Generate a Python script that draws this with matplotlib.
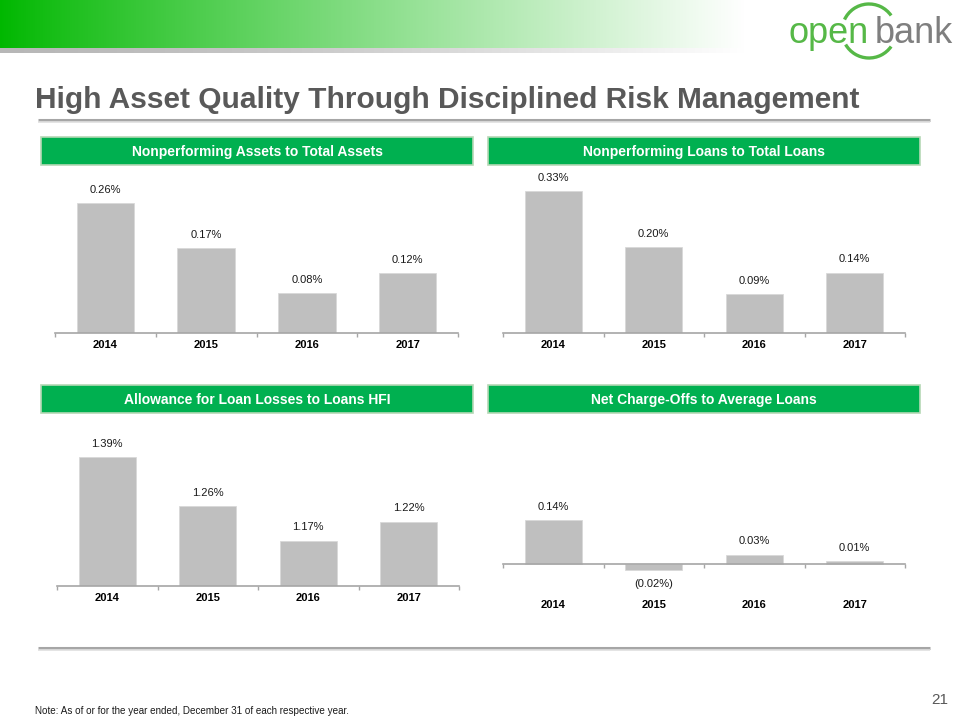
import numpy as np
import matplotlib
matplotlib.use('Agg')
import matplotlib.pyplot as plt
from matplotlib import font_manager
from matplotlib.patches import Rectangle, Arc

# chart data
years = ['2014', '2015', '2016', '2017']
npa_to_assets = [0.26, 0.17, 0.08, 0.12]
npl_to_loans = [0.33, 0.20, 0.09, 0.14]
allowance_to_loans = [1.39, 1.26, 1.17, 1.22]
nco_to_avg_loans = [0.14, -0.02, 0.03, 0.01]

panel_titles = ['Nonperforming Assets to Total Assets',
                'Nonperforming Loans to Total Loans',
                'Allowance for Loan Losses to Loans HFI',
                'Net Charge-Offs to Average Loans']

GREEN = '#00B050'
LOGO_GREEN = '#56B847'
BAR = '#BFBFBF'
AXIS = '#A6A6A6'
DARK = '#595959'

plt.rcParams['font.family'] = ['Liberation Sans', 'DejaVu Sans']

installed = {f.name for f in font_manager.fontManager.ttflist}
NARROW = 'Liberation Sans Narrow' if 'Liberation Sans Narrow' in installed else 'Liberation Sans'

W, H = 960, 720
fig = plt.figure(figsize=(9.6, 7.2), dpi=100)


def px_axes(x0, y0, x1, y1):
    # axes placed by pixel box (top-left origin)
    return fig.add_axes([x0 / W, 1 - y1 / H, (x1 - x0) / W, (y1 - y0) / H])


# background layer in pixel coordinates
bg = px_axes(0, 0, W, H)
bg.set_xlim(0, W)
bg.set_ylim(H, 0)
bg.axis('off')

# top gradient banner
t = np.linspace(0, 1, 400)
start = np.array([0.0, 0.72, 0.0])
grad = start[None, :] + (1 - start[None, :]) * (t ** 0.9)[:, None]
bg.imshow(grad[None, :, :], extent=(0, 745, 48, 0), aspect='auto', zorder=1)
shade = np.array([0.72, 0.72, 0.72])
sgrad = shade[None, :] + (1 - shade[None, :]) * (t ** 1.5)[:, None]
bg.imshow(sgrad[None, :, :], extent=(0, 745, 53, 48), aspect='auto', zorder=1)

# logo (y axis is inverted, so arc angles are mirrored)
bg.add_patch(Arc((869, 31), 54, 54, theta1=205, theta2=325, color=LOGO_GREEN, lw=2.4, zorder=2))
bg.add_patch(Arc((869, 31), 54, 54, theta1=35, theta2=150, color=LOGO_GREEN, lw=2.4, zorder=2))
bg.text(788, 43, 'open', fontsize=26, color=LOGO_GREEN, ha='left', va='baseline', zorder=3)
bg.text(875, 43, 'bank', fontsize=26, color='#7F7F7F', ha='left', va='baseline', zorder=3)

# title and rules
bg.text(35, 100, 'High Asset Quality Through Disciplined Risk Management',
        fontsize=21.5, fontweight='bold', color=DARK, ha='left', va='center',
        family=[NARROW, 'DejaVu Sans'])
bg.plot([38, 930], [120, 120], color='#A6A6A6', lw=2.2, solid_capstyle='butt')
bg.plot([38, 930], [122, 122], color='#E0E0E0', lw=1.2, solid_capstyle='butt')
bg.plot([38, 930], [648, 648], color='#A6A6A6', lw=2.2, solid_capstyle='butt')
bg.plot([38, 930], [650, 650], color='#E0E0E0', lw=1.2, solid_capstyle='butt')

bg.text(35, 711, 'Note: As of or for the year ended, December 31 of each respective year.',
        fontsize=7.1, color='#1a1a1a', ha='left', va='center', family=[NARROW, 'DejaVu Sans'])
bg.text(948, 700, '21', fontsize=11, color=DARK, ha='right', va='center',
        family=[NARROW, 'DejaVu Sans'])

# panel headers
headers = [(41, 137, 473, 165), (488, 137, 920, 165),
           (41, 385, 473, 413), (488, 385, 920, 413)]
for (x0, y0, x1, y1), title in zip(headers, panel_titles):
    bg.add_patch(Rectangle((x0, y0), x1 - x0, y1 - y0, facecolor=GREEN,
                           edgecolor='#B5D8B5', lw=1.2, zorder=2))
    bg.text((x0 + x1) / 2, (y0 + y1) / 2 + 1, title, color='white', fontsize=10,
            fontweight='bold', ha='center', va='center', zorder=3)


def bar_panel(ax, values, ylim, zero_line=False, label_pad=5):
    x = np.arange(len(values))
    ax.bar(x, values, width=0.57, color=BAR, edgecolor='#D9D9D9', linewidth=0.6)
    ax.set_xlim(-0.5, len(values) - 0.5)
    ax.set_ylim(*ylim)
    for s in ['top', 'left', 'right']:
        ax.spines[s].set_visible(False)
    ax.spines['bottom'].set_color(AXIS)
    ax.spines['bottom'].set_linewidth(1.2)
    if zero_line:
        ax.spines['bottom'].set_position(('data', 0))
    ax.set_yticks([])
    ax.set_xticks(np.arange(len(values) + 1) - 0.5)
    ax.set_xticklabels([])
    ax.tick_params(axis='x', which='major', length=3, color=AXIS, width=1)
    ax.set_xticks(x, minor=True)
    ax.set_xticklabels(years, minor=True, fontsize=8, fontweight='bold')
    ax.tick_params(axis='x', which='minor', length=0, pad=label_pad)
    for xi, v in zip(x, values):
        if v >= 0:
            ax.annotate(f'{v:.2f}%', (xi, v), xytext=(0, 6), textcoords='offset points',
                        ha='center', va='bottom', fontsize=8, color='#1a1a1a')
        else:
            ax.annotate(f'({abs(v):.2f}%)', (xi, v), xytext=(0, -6), textcoords='offset points',
                        ha='center', va='top', fontsize=8, color='#1a1a1a')
    ax.patch.set_alpha(0)


ax1 = px_axes(55, 170, 458, 333)
bar_panel(ax1, npa_to_assets, (0, 0.326))

ax2 = px_axes(503, 170, 905, 333)
bar_panel(ax2, npl_to_loans, (0, 0.379))

ax3 = px_axes(57, 420, 459, 586)
bar_panel(ax3, allowance_to_loans, (1.05, 1.488))

ax4 = px_axes(503, 420, 905, 586)
bar_panel(ax4, nco_to_avg_loans, (-0.070, 0.458), zero_line=True, label_pad=26)

fig.savefig('out.png', dpi=100)
